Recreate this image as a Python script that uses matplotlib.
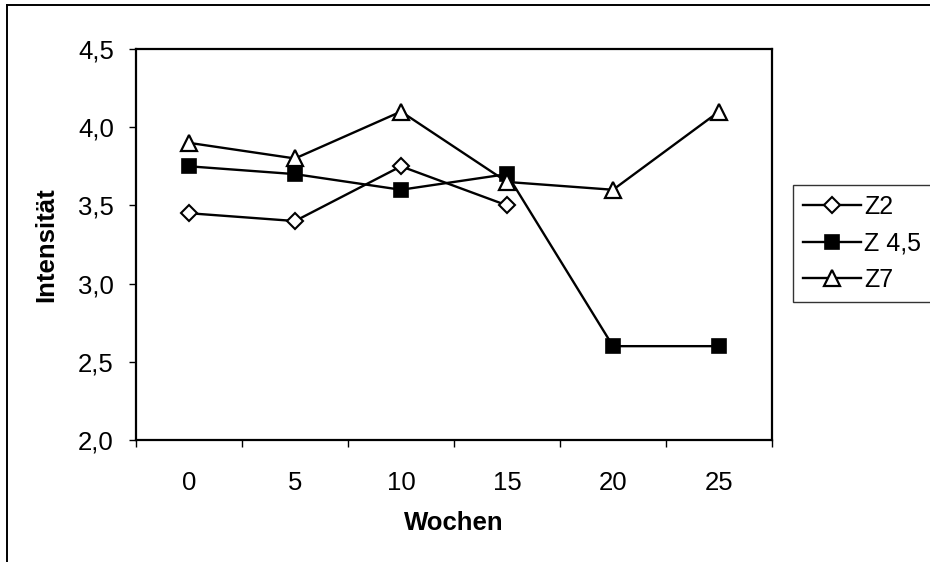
import numpy as np
import matplotlib.pyplot as plt
from matplotlib.lines import Line2D

plt.rcParams["font.family"] = ["Liberation Sans", "DejaVu Sans"]

weeks = ["0", "5", "10", "15", "20", "25"]
z2 = [3.45, 3.40, 3.75, 3.50, np.nan, np.nan]
z45 = [3.75, 3.70, 3.60, 3.70, 2.60, 2.60]
z7 = [3.90, 3.80, 4.10, 3.65, 3.60, 4.10]
yticks = [2.0, 2.5, 3.0, 3.5, 4.0, 4.5]
ytick_labels = ["2,0", "2,5", "3,0", "3,5", "4,0", "4,5"]

fig = plt.figure(figsize=(9.3, 5.62), dpi=100)
ax = fig.add_axes([136 / 930, 1 - 440 / 562, 636 / 930, 391 / 562])

x = np.arange(len(weeks))
ax.plot(x, z2, color="black", lw=1.7, marker="D", ms=8.5, mfc="white", mec="black", mew=1.5, label="Z2")
ax.plot(x, z45, color="black", lw=1.7, marker="s", ms=10, mfc="black", mec="black", mew=1.2, label="Z 4,5")
ax.plot(x, z7, color="black", lw=1.7, marker="^", ms=11, mfc="white", mec="black", mew=1.6, label="Z7")

ax.set_xlim(-0.5, len(weeks) - 0.5)
ax.set_ylim(2.0, 4.5)

# category axis: ticks between categories, labels at centres
ax.set_xticks(np.arange(len(weeks) + 1) - 0.5)
ax.set_xticklabels([])
ax.set_xticks(x, minor=True)
ax.set_xticklabels(weeks, minor=True)
ax.tick_params(axis="x", which="major", direction="out", length=5, width=1, color="black")
ax.tick_params(axis="x", which="minor", length=0, pad=22, labelsize=18.5)

ax.set_yticks(yticks)
ax.set_yticklabels(ytick_labels)
ax.tick_params(axis="y", direction="out", length=5, width=1, color="black", pad=11, labelsize=18.5)

for s in ax.spines.values():
    s.set_linewidth(1.6)
    s.set_color("black")

ax.set_xlabel("Wochen", fontsize=18.5, fontweight="bold", labelpad=12)
ax.set_ylabel("Intensität", fontsize=18.5, fontweight="bold", labelpad=14)

leg = fig.legend(loc="upper left", bbox_to_anchor=(793 / 930, 1 - 185 / 562),
                 fontsize=18, frameon=True, fancybox=False, handlelength=2.3,
                 handletextpad=0.15, labelspacing=0.5, borderpad=0.4, borderaxespad=0)
leg.get_frame().set_edgecolor("black")
leg.get_frame().set_linewidth(1.0)

# outer chart border (top and left visible)
fig.add_artist(Line2D([7 / 930, 1], [1 - 5 / 562, 1 - 5 / 562], transform=fig.transFigure, color="black", lw=1.4))
fig.add_artist(Line2D([7 / 930, 7 / 930], [0, 1 - 5 / 562], transform=fig.transFigure, color="black", lw=1.4))

fig.savefig("out.png", dpi=100)
